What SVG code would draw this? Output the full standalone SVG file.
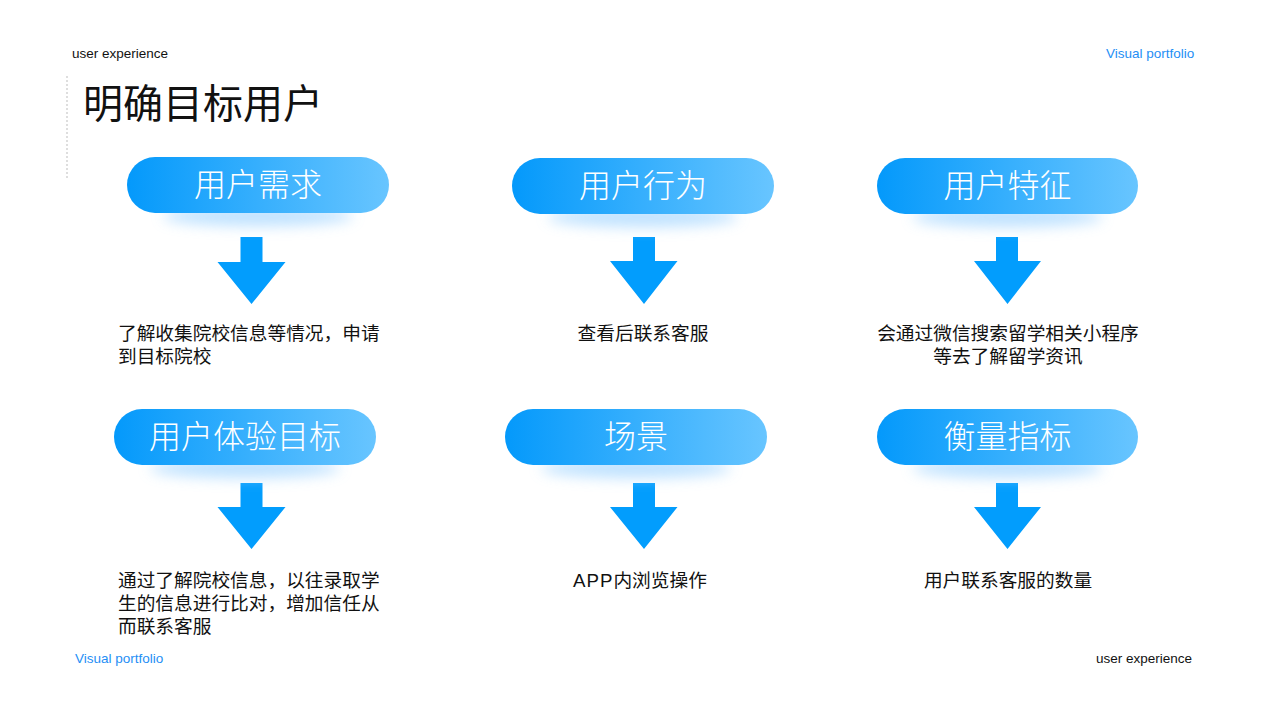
<svg xmlns="http://www.w3.org/2000/svg" width="1280" height="715" viewBox="0 0 1280 715">
<defs>
<linearGradient id="pg" x1="0" y1="0" x2="1" y2="0">
<stop offset="0" stop-color="#0499fb"/>
<stop offset="1" stop-color="#68c5ff"/>
</linearGradient>
<filter id="glow" x="-30%" y="-100%" width="160%" height="300%">
<feGaussianBlur stdDeviation="7"/>
</filter>
<style>
.hdr{font-family:"Liberation Sans",Arial,sans-serif;font-size:13.5px}
.blk{fill:#111}
.blu{fill:#1f8ff5}
.title{font-family:"Liberation Serif","Noto Sans CJK SC",serif;font-size:40px;fill:#111}
.pill{fill:url(#pg)}
.glow{fill:#a9d8ff;opacity:0.75;filter:url(#glow)}
.ptxt{font-family:"Noto Sans CJK SC",sans-serif;font-weight:300;font-size:32px;fill:#fff;text-anchor:middle}
.arrow{fill:#029dfd}
.body{font-family:"Liberation Serif","Noto Sans CJK SC",serif;font-size:18.7px;fill:#111}
.mid{text-anchor:middle}
.latin{font-family:"Liberation Sans",Arial,sans-serif;letter-spacing:1px}
</style>
</defs>
<rect width="1280" height="715" fill="#fff"/>
<text class="hdr blk" x="72" y="58">user experience</text>
<text class="hdr blu" x="1106" y="58">Visual portfolio</text>
<text class="hdr blu" x="75" y="663">Visual portfolio</text>
<text class="hdr blk" x="1096" y="663">user experience</text>
<line x1="67" y1="76" x2="67" y2="179" stroke="#bdbdbd" stroke-width="1" stroke-dasharray="2,2"/>
<text class="title" x="83" y="118">明确目标用户</text>

<g id="connectors">
<path class="arrow" d="M240.5,237 H262.5 V262 H285.5 L251.5,304 L217.5,262 H240.5 Z"/>
<path class="arrow" d="M633,237 H655 V261 H677.5 L644,304 L610,261 H633 Z"/>
<path class="arrow" d="M996,237 H1018 V261 H1041 L1007.5,304 L974,261 H996 Z"/>
<path class="arrow" d="M240.5,483 H262.5 V507 H285.5 L251.5,549 L217.5,507 H240.5 Z"/>
<path class="arrow" d="M633,483 H655 V507 H677.5 L644,549 L610,507 H633 Z"/>
<path class="arrow" d="M996,483 H1018 V507 H1041 L1007.5,549 L974,507 H996 Z"/>
</g>

<g id="node-need">
<ellipse class="glow" cx="258" cy="216" rx="95" ry="10"/>
<rect class="pill" x="127" y="157" width="262" height="56" rx="28"/>
<text class="ptxt" x="258" y="196">用户需求</text>
</g>
<g id="node-behavior">
<ellipse class="glow" cx="643" cy="217" rx="95" ry="10"/>
<rect class="pill" x="512" y="158" width="262" height="56" rx="28"/>
<text class="ptxt" x="643" y="197">用户行为</text>
</g>
<g id="node-feature">
<ellipse class="glow" cx="1007.5" cy="217" rx="95" ry="10"/>
<rect class="pill" x="877" y="158" width="261" height="56" rx="28"/>
<text class="ptxt" x="1007.5" y="197">用户特征</text>
</g>
<g id="node-goal">
<ellipse class="glow" cx="245" cy="468" rx="95" ry="10"/>
<rect class="pill" x="114" y="409" width="262" height="56" rx="28"/>
<text class="ptxt" x="245" y="448">用户体验目标</text>
</g>
<g id="node-scene">
<ellipse class="glow" cx="636" cy="468" rx="95" ry="10"/>
<rect class="pill" x="505" y="409" width="262" height="56" rx="28"/>
<text class="ptxt" x="636" y="448">场景</text>
</g>
<g id="node-metric">
<ellipse class="glow" cx="1007.5" cy="468" rx="95" ry="10"/>
<rect class="pill" x="877" y="409" width="261" height="56" rx="28"/>
<text class="ptxt" x="1007.5" y="448">衡量指标</text>
</g>

<g id="desc-need">
<text class="body" x="118" y="340">了解收集院校信息等情况，申请</text>
<text class="body" x="118" y="363">到目标院校</text>
</g>
<g id="desc-behavior">
<text class="body mid" x="643" y="340">查看后联系客服</text>
</g>
<g id="desc-feature">
<text class="body mid" x="1008" y="340">会通过微信搜索留学相关小程序</text>
<text class="body mid" x="1008" y="363">等去了解留学资讯</text>
</g>
<g id="desc-goal">
<text class="body" x="118" y="587">通过了解院校信息，以往录取学</text>
<text class="body" x="118" y="610">生的信息进行比对，增加信任从</text>
<text class="body" x="118" y="633">而联系客服</text>
</g>
<g id="desc-scene">
<text class="body" x="573" y="587"><tspan class="latin">APP</tspan>内浏览操作</text>
</g>
<g id="desc-metric">
<text class="body mid" x="1008" y="587">用户联系客服的数量</text>
</g>
</svg>
